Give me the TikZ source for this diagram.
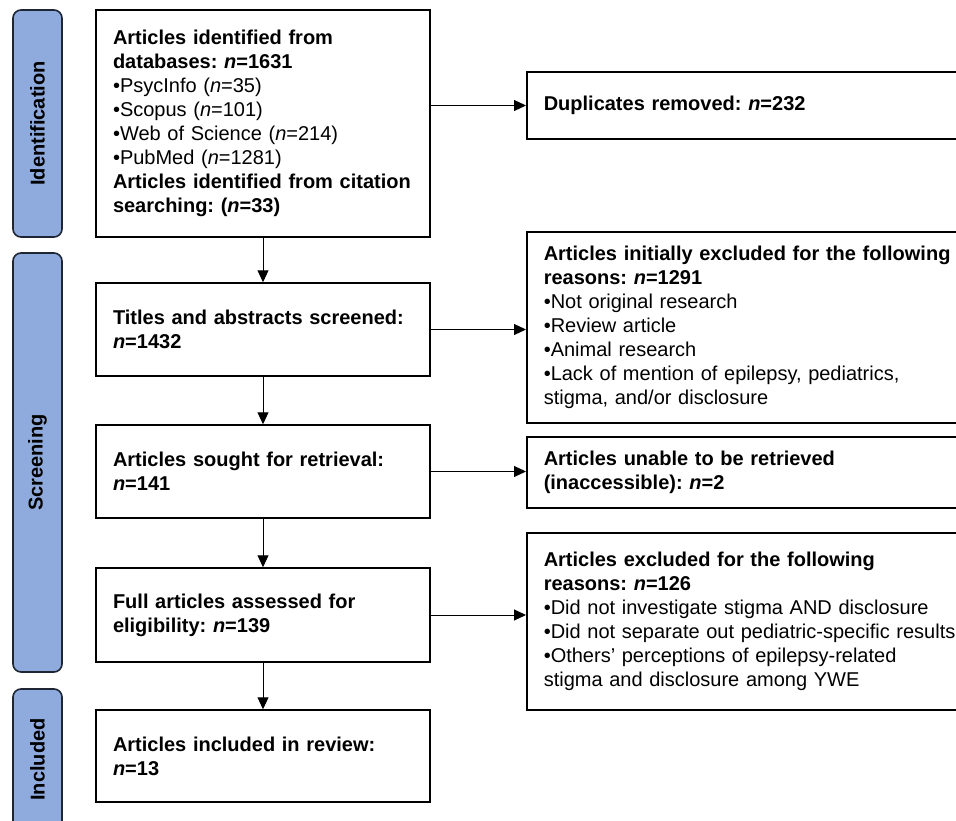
\documentclass[tikz,border=0pt]{standalone}
\usepackage{fontspec}
\setmainfont{Liberation Sans}
\usetikzlibrary{arrows.meta}
\definecolor{fasefill}{RGB}{143,170,220}
\definecolor{fasebordo}{RGB}{30,38,52}
\newcommand{\nn}{\textit{n}}
\frenchspacing

\begin{document}
\begin{tikzpicture}[x=1pt, y=-1pt, >={Triangle[length=12pt,width=11pt]},
  box/.style={draw, line width=1.5pt, align=left, inner xsep=17pt, inner ysep=0pt,
    font=\fontsize{20}{24}\selectfont},
  boxsx/.style={box, text width=300pt},
  boxdx/.style={box, text width=426pt, anchor=west},
  fase/.style={draw=fasebordo, fill=fasefill, line width=1.6pt, rounded corners=8pt,
    rotate=90, minimum height=49pt, font=\fontsize{20}{24}\selectfont\bfseries},
  freccia/.style={->, line width=1pt}]

\clip (0,0) rectangle (956,821);

% Fasi (barre laterali)
\node[fase, minimum width=227pt] (fid) at (37.5,123.5) {Identification};
\node[fase, minimum width=419pt] (fsc) at (37.5,462.5) {Screening};
\node[fase, minimum width=141pt] (fin) at (37.5,759.5) {Included};

% Colonna principale
\node[boxsx, minimum height=227pt] (ident) at (263,123.5)
  {\textbf{Articles identified from}\\
   \textbf{databases: \nn=1631}\\
   •PsycInfo (\nn=35)\\
   •Scopus (\nn=101)\\
   •Web of Science (\nn=214)\\
   •PubMed (\nn=1281)\\
   \textbf{Articles identified from citation}\\
   \textbf{searching: (\nn=33)}};
\node[boxsx, minimum height=93pt] (titles) at (263,329.5)
  {\textbf{Titles and abstracts screened:}\\ \textbf{\nn=1432}};
\node[boxsx, minimum height=93pt] (sought) at (263,471.5)
  {\textbf{Articles sought for retrieval:}\\ \textbf{\nn=141}};
\node[boxsx, minimum height=94pt] (full) at (263,615)
  {\textbf{Full articles assessed for}\\ \textbf{eligibility: \nn=139}};
\node[boxsx, minimum height=92pt] (incl) at (263,756)
  {\textbf{Articles included in review:}\\ \textbf{\nn=13}};

% Colonna delle esclusioni
\node[boxdx, minimum height=67pt] (dup) at (526,105.5)
  {\textbf{Duplicates removed: \nn=232}};
\node[boxdx, minimum height=191pt] (excla) at (526,327.5)
  {\textbf{Articles initially excluded for the following}\\
   \textbf{reasons: \nn=1291}\\
   •Not original research\\
   •Review article\\
   •Animal research\\
   •Lack of mention of epilepsy, pediatrics,\\
   stigma, and/or disclosure};
\node[boxdx, minimum height=71pt] (retr) at (526,472.5)
  {\textbf{Articles unable to be retrieved}\\
   \textbf{(inaccessible): \nn=2}};
\node[boxdx, minimum height=177pt] (exclb) at (526,621.5)
  {\textbf{Articles excluded for the following}\\
   \textbf{reasons: \nn=126}\\
   •Did not investigate stigma AND disclosure\\
   •Did not separate out pediatric-specific results\\
   •Others’ perceptions of epilepsy-related\\
   stigma and disclosure among YWE};

% Frecce
\draw[freccia] (ident) -- (titles);
\draw[freccia] (titles) -- (sought);
\draw[freccia] (sought) -- (full);
\draw[freccia] (full) -- (incl);
\draw[freccia] (ident.east |- dup.west) -- (dup.west);
\draw[freccia] (titles.east) -- (titles.east -| excla.west);
\draw[freccia] (sought.east) -- (sought.east -| retr.west);
\draw[freccia] (full.east) -- (full.east -| exclb.west);

\end{tikzpicture}
\end{document}
